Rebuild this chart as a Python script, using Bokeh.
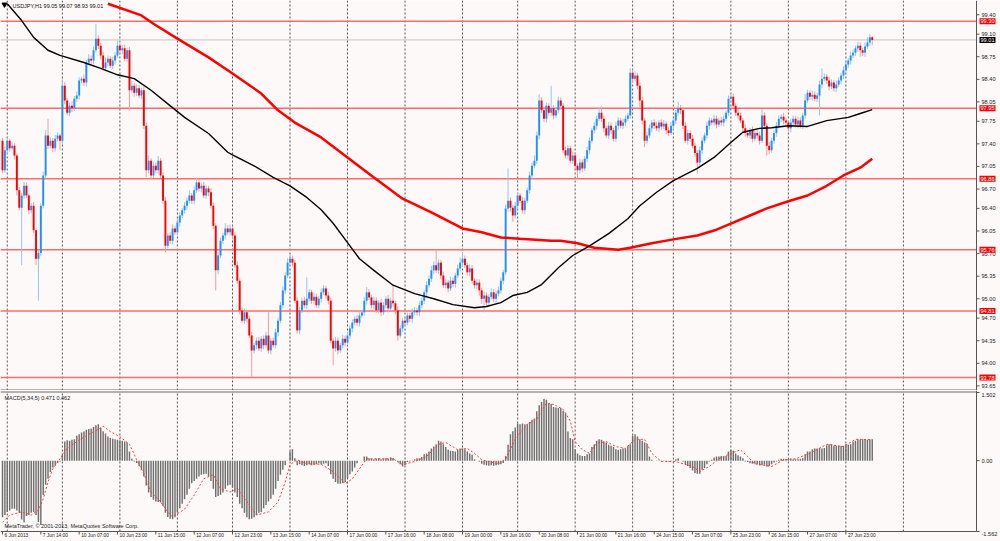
from bokeh.plotting import figure
from bokeh.models import Range1d, Label, ColumnDataSource
from bokeh.layouts import column
from bokeh.embed import file_html
from bokeh.resources import INLINE
from bokeh.core.properties import value

# ---------------- data ----------------
first_open = 97.45
closes = [
    96.99, 97.30, 97.45, 97.33, 97.37, 97.22, 96.68, 96.41, 96.60, 96.75,
    96.60, 96.37, 96.44, 96.06, 95.62, 95.71, 96.44, 96.91, 97.53, 97.37,
    97.45, 97.33, 97.48, 97.53, 97.45, 98.30, 98.07, 97.88, 97.99, 97.95,
    98.10, 98.15, 98.38, 98.41, 98.35, 98.66, 98.72, 98.69, 98.85, 99.03,
    98.92, 98.77, 98.57, 98.66, 98.72, 98.61, 98.69, 98.77, 98.92, 98.85,
    98.88, 98.72, 98.85, 98.23, 98.30, 98.19, 98.26, 98.15, 98.23, 97.68,
    96.99, 97.14, 96.91, 97.06, 96.99, 97.14, 96.91, 96.52, 95.82, 95.98,
    95.90, 96.09, 96.03, 96.18, 96.29, 96.37, 96.44, 96.52, 96.60, 96.52,
    96.68, 96.80, 96.71, 96.75, 96.60, 96.71, 96.65, 96.44, 96.13, 95.44,
    95.67, 95.90, 95.98, 96.09, 96.03, 96.09, 95.98, 95.52, 95.28, 94.82,
    94.66, 94.79, 94.69, 94.43, 94.20, 94.28, 94.35, 94.23, 94.38, 94.28,
    94.43, 94.20, 94.35, 94.28, 94.48, 94.66, 94.90, 95.13, 95.36, 95.56,
    95.62, 95.56, 94.97, 94.51, 94.82, 94.97, 94.90, 95.00, 95.10, 94.97,
    95.03, 94.90, 95.00, 95.10, 95.16, 95.05, 94.97, 94.35, 94.23, 94.35,
    94.20, 94.28, 94.38, 94.32, 94.43, 94.54, 94.63, 94.69, 94.63, 94.74,
    94.79, 94.97, 95.10, 95.02, 94.90, 94.97, 94.82, 94.94, 94.79, 94.90,
    95.00, 94.85, 94.97, 94.93, 94.82, 94.43, 94.54, 94.66, 94.63, 94.74,
    94.69, 94.79, 94.82, 94.79, 94.90, 94.97, 95.10, 95.21, 95.31, 95.44,
    95.52, 95.44, 95.56, 95.36, 95.21, 95.25, 95.16, 95.28, 95.23, 95.36,
    95.47, 95.56, 95.62, 95.52, 95.41, 95.47, 95.28, 95.21, 95.25, 95.13,
    95.00, 95.05, 94.94, 95.03, 95.10, 95.00, 95.08, 95.13, 95.28, 95.41,
    96.40, 96.52, 96.41, 96.29, 96.44, 96.60, 96.52, 96.37, 96.52, 96.68,
    96.91, 97.06, 97.14, 97.53, 98.07, 97.92, 97.79, 97.99, 97.88, 97.95,
    97.84, 97.92, 98.07, 97.99, 97.30, 97.22, 97.33, 97.14, 97.22, 97.06,
    96.99, 97.11, 97.02, 97.17, 97.30, 97.45, 97.61, 97.68, 97.79, 97.88,
    97.79, 97.64, 97.53, 97.68, 97.61, 97.48, 97.68, 97.76, 97.68, 97.73,
    97.79, 97.84, 98.50, 98.41, 98.46, 98.30, 98.07, 97.76, 97.45, 97.53,
    97.64, 97.73, 97.68, 97.64, 97.73, 97.67, 97.71, 97.61, 97.57, 97.68,
    97.76, 97.88, 97.95, 97.92, 97.68, 97.45, 97.57, 97.48, 97.37, 97.26,
    97.11, 97.30, 97.45, 97.53, 97.68, 97.76, 97.73, 97.79, 97.70, 97.76,
    97.73, 97.79, 97.88, 98.10, 98.13, 97.99, 97.88, 97.84, 97.76, 97.64,
    97.57, 97.53, 97.61, 97.48, 97.57, 97.53, 97.45, 97.84, 97.68, 97.37,
    97.30, 97.45, 97.57, 97.68, 97.79, 97.82, 97.76, 97.73, 97.64, 97.73,
    97.79, 97.70, 97.76, 97.68, 97.84, 98.07, 98.19, 98.13, 98.16, 98.10,
    98.15, 98.32, 98.41, 98.44, 98.38, 98.29, 98.35, 98.26, 98.32, 98.38,
    98.46, 98.54, 98.63, 98.69, 98.77, 98.81, 98.88, 98.92, 98.85, 98.81,
    98.91, 98.97, 99.05, 99.01,
]
# wick lengths above / below the candle body, in hundredths of a yen
up_wick = [
    4, 6, 5, 3, 6, 4, 3, 5, 4, 6, 5, 3, 4, 6, 3, 5, 4, 6, 8, 26,
    5, 4, 6, 5, 3, 10, 6, 4, 5, 7, 4, 6, 5, 3, 6, 4, 7, 5, 6, 23,
    5, 4, 6, 8, 5, 4, 6, 5, 8, 4, 5, 6, 4, 5, 7, 4, 6, 5, 4, 6,
    5, 8, 4, 6, 5, 7, 4, 5, 6, 4, 5, 6, 4, 7, 5, 4, 6, 5, 8, 4,
    6, 8, 5, 4, 6, 5, 4, 6, 5, 4, 6, 5, 4, 8, 5, 6, 4, 5, 6, 4,
    5, 6, 4, 5, 6, 4, 5, 6, 4, 5, 6, 36, 4, 5, 6, 4, 5, 6, 5, 7,
    8, 5, 4, 6, 5, 4, 6, 33, 5, 4, 6, 5, 4, 6, 5, 4, 6, 5, 4, 6,
    5, 4, 6, 5, 4, 6, 5, 4, 6, 5, 4, 6, 8, 5, 4, 6, 5, 4, 6, 5,
    4, 6, 5, 24, 4, 6, 5, 4, 6, 5, 4, 6, 5, 4, 6, 5, 4, 6, 5, 7,
    6, 23, 5, 4, 6, 5, 4, 6, 5, 4, 6, 8, 10, 5, 4, 6, 5, 4, 6, 5,
    4, 6, 5, 4, 6, 5, 4, 6, 5, 4, 6, 50, 5, 4, 6, 5, 4, 6, 5, 4,
    6, 5, 8, 6, 10, 5, 6, 5, 4, 35, 5, 4, 6, 5, 4, 6, 5, 4, 6, 5,
    4, 6, 5, 4, 6, 5, 4, 6, 5, 8, 10, 5, 4, 6, 5, 4, 6, 5, 4, 6,
    5, 4, 7, 5, 6, 4, 5, 6, 4, 5, 6, 4, 5, 6, 4, 5, 6, 4, 5, 6,
    4, 5, 10, 5, 4, 6, 5, 4, 6, 5, 4, 6, 5, 4, 6, 5, 4, 6, 5, 4,
    6, 5, 4, 5, 6, 5, 4, 6, 5, 4, 6, 5, 4, 6, 5, 4, 6, 10, 5, 4,
    6, 5, 4, 6, 5, 4, 6, 5, 4, 6, 5, 4, 6, 5, 4, 10, 5, 4, 6, 5,
    4, 6, 16, 5, 4, 6, 5, 4, 6, 5, 4, 6, 5, 4, 6, 5, 4, 6, 5, 4,
    6, 8, 5, 2,
]
dn_wick = [
    5, 4, 6, 5, 3, 6, 8, 4, 89, 5, 4, 6, 5, 4, 10, 65, 5, 4, 6, 5,
    4, 6, 5, 4, 15, 5, 6, 4, 5, 6, 4, 5, 6, 4, 5, 6, 4, 5, 6, 4,
    5, 6, 4, 5, 6, 4, 5, 6, 4, 5, 6, 4, 5, 31, 4, 6, 5, 4, 6, 5,
    10, 5, 6, 4, 5, 6, 4, 5, 10, 4, 5, 6, 4, 5, 6, 4, 5, 6, 4, 5,
    6, 4, 5, 6, 4, 5, 6, 4, 5, 31, 6, 4, 5, 6, 4, 5, 6, 4, 5, 6,
    4, 5, 6, 4, 42, 5, 6, 4, 5, 6, 4, 5, 6, 4, 5, 6, 4, 5, 6, 4,
    5, 6, 4, 5, 6, 4, 5, 6, 4, 5, 6, 4, 5, 6, 4, 5, 6, 4, 26, 5,
    6, 4, 5, 6, 4, 5, 6, 4, 5, 6, 4, 5, 6, 4, 5, 6, 4, 5, 6, 4,
    5, 6, 4, 5, 6, 8, 4, 5, 6, 4, 5, 6, 4, 5, 6, 4, 5, 6, 4, 5,
    6, 4, 5, 6, 4, 5, 6, 4, 5, 6, 4, 5, 6, 4, 5, 6, 4, 5, 6, 8,
    8, 21, 5, 6, 4, 5, 6, 4, 5, 6, 4, 5, 6, 10, 5, 6, 4, 5, 6, 4,
    5, 6, 4, 5, 6, 4, 5, 6, 4, 5, 6, 4, 5, 6, 4, 5, 6, 4, 5, 6,
    13, 5, 6, 4, 5, 6, 4, 5, 6, 4, 5, 6, 4, 5, 6, 4, 5, 6, 4, 5,
    6, 4, 5, 6, 4, 5, 10, 6, 10, 5, 4, 6, 5, 4, 6, 5, 4, 6, 5, 4,
    6, 5, 4, 6, 5, 4, 6, 5, 4, 6, 17, 5, 6, 4, 5, 6, 4, 5, 6, 4,
    5, 6, 4, 5, 6, 4, 5, 6, 4, 5, 6, 4, 5, 6, 4, 5, 6, 4, 5, 15,
    6, 4, 5, 6, 4, 5, 6, 4, 5, 6, 4, 5, 6, 4, 5, 6, 4, 5, 6, 4,
    5, 31, 6, 4, 5, 6, 4, 5, 6, 4, 5, 6, 4, 5, 6, 4, 5, 6, 10, 5,
    6, 4, 5, 8,
]

# moving averages (bar index, value)
ma_black_x = [2, 8, 13, 19, 24, 34, 41, 48, 55, 62, 69, 76, 86, 94, 96, 105, 113, 120, 127, 133,
              138, 144, 149, 155, 163, 172, 180, 188, 197, 202, 208, 213, 219, 225, 232, 238, 245, 253, 261, 266,
              273, 280, 290, 297, 304, 309, 316, 321, 328, 336, 344, 353, 358, 363]
ma_black_v = [99.57, 99.31, 99.05, 98.85, 98.77, 98.66, 98.57, 98.47, 98.41, 98.23, 98.02, 97.81, 97.56, 97.27,
              97.23, 97.06, 96.88, 96.75, 96.57, 96.38, 96.17, 95.87, 95.62, 95.44, 95.21, 95.08, 95.00, 94.91,
              94.86, 94.88, 94.94, 95.05, 95.10, 95.22, 95.48, 95.67, 95.82, 96.01, 96.24, 96.44, 96.65, 96.83,
              97.02, 97.19, 97.42, 97.58, 97.64, 97.65, 97.68, 97.67, 97.76, 97.81, 97.87, 97.93]
ma_red_x = [44, 58, 63, 73, 86, 96, 108, 115, 122, 133, 144, 155, 167, 179, 192, 200, 208, 216, 229, 233,
            240, 247, 257, 262, 271, 280, 290, 298, 305, 312, 319, 328, 336, 344, 351, 358, 363]
ma_red_v = [99.57, 99.39, 99.26, 99.03, 98.74, 98.49, 98.18, 97.92, 97.73, 97.50, 97.19, 96.88, 96.55, 96.34,
            96.09, 96.03, 95.95, 95.93, 95.90, 95.90, 95.86, 95.79, 95.76, 95.79, 95.86, 95.92, 95.98, 96.07,
            96.18, 96.29, 96.40, 96.51, 96.60, 96.75, 96.91, 97.03, 97.17]

levels = [99.30, 97.95, 96.86, 95.76, 94.81, 93.78]
bid = 99.01
price_ticks = [99.40, 99.10, 98.75, 98.40, 98.05, 97.75, 97.40, 97.05, 96.70, 96.40, 96.05,
               95.70, 95.35, 95.00, 94.70, 94.35, 94.00, 93.65]

macd_hist = [
    -1.25, -1.20, -1.13, -1.10, -1.06, -1.06, -1.10, -1.15, -1.30, -1.36,
    -1.22, -1.20, -1.15, -1.13, -1.20, -1.35, -1.42, -0.76, -0.53, -0.40,
    -0.25, -0.15, -0.10, -0.05, -0.02, 0.13, 0.42, 0.45, 0.44, 0.46,
    0.47, 0.55, 0.58, 0.62, 0.64, 0.68, 0.70, 0.71, 0.74, 0.78,
    0.80, 0.72, 0.65, 0.60, 0.53, 0.50, 0.48, 0.47, 0.46, 0.45,
    0.44, 0.42, 0.40, 0.20, 0.04, -0.02, -0.05, -0.12, -0.20, -0.35,
    -0.55, -0.70, -0.80, -0.86, -0.90, -0.91, -0.92, -1.00, -1.15, -1.24,
    -1.28, -1.29, -1.25, -1.15, -1.05, -0.95, -0.85, -0.75, -0.62, -0.50,
    -0.45, -0.40, -0.35, -0.31, -0.30, -0.29, -0.35, -0.45, -0.62, -0.80,
    -0.78, -0.75, -0.70, -0.62, -0.55, -0.53, -0.60, -0.70, -0.80, -0.95,
    -1.05, -1.15, -1.25, -1.29, -1.28, -1.25, -1.20, -1.15, -1.13, -1.05,
    -0.98, -0.90, -0.84, -0.75, -0.62, -0.45, -0.31, -0.20, -0.10, -0.01,
    0.20, 0.25, 0.05, -0.10, -0.08, -0.10, -0.12, -0.10, -0.08, -0.10,
    -0.09, -0.08, -0.06, -0.08, -0.07, -0.06, -0.12, -0.30, -0.40, -0.47,
    -0.51, -0.51, -0.50, -0.47, -0.38, -0.30, -0.24, -0.15, -0.06, 0.00,
    0.00, 0.09, 0.09, 0.05, 0.04, 0.03, 0.04, 0.05, 0.03, 0.04,
    0.05, 0.04, 0.07, 0.06, 0.00, -0.03, -0.08, -0.13, -0.10, -0.03,
    -0.02, -0.01, 0.03, 0.05, 0.05, 0.08, 0.14, 0.16, 0.20, 0.27,
    0.31, 0.36, 0.44, 0.42, 0.36, 0.30, 0.24, 0.22, 0.21, 0.20,
    0.24, 0.27, 0.27, 0.25, 0.20, 0.16, 0.13, 0.03, 0.00, -0.02,
    -0.07, -0.09, -0.10, -0.11, -0.10, -0.11, -0.10, -0.09, -0.08, -0.05,
    0.10, 0.35, 0.58, 0.65, 0.73, 0.82, 0.80, 0.82, 0.80, 0.80,
    0.85, 0.90, 0.93, 1.09, 1.22, 1.29, 1.36, 1.34, 1.27, 1.25,
    1.18, 1.17, 1.16, 1.16, 1.10, 1.04, 0.64, 0.50, 0.47, 0.25,
    0.16, 0.12, 0.10, 0.10, 0.14, 0.16, 0.30, 0.36, 0.44, 0.47,
    0.46, 0.42, 0.40, 0.35, 0.33, 0.30, 0.25, 0.24, 0.25, 0.27,
    0.27, 0.33, 0.36, 0.55, 0.58, 0.53, 0.47, 0.44, 0.40, 0.36,
    0.09, 0.02, 0.00, -0.01, -0.01, -0.02, -0.01, -0.01, -0.02, -0.01,
    -0.01, 0.03, 0.05, 0.00, -0.02, -0.08, -0.12, -0.16, -0.22, -0.27,
    -0.29, -0.29, -0.20, -0.16, -0.08, -0.02, 0.02, 0.07, 0.09, 0.09,
    0.10, 0.09, 0.10, 0.20, 0.24, 0.22, 0.16, 0.12, 0.09, 0.05,
    -0.02, -0.03, -0.06, -0.07, -0.07, -0.08, -0.10, -0.10, -0.09, -0.13,
    -0.12, -0.08, -0.04, -0.02, 0.02, 0.04, 0.04, 0.03, 0.03, 0.04,
    0.03, 0.03, 0.03, 0.04, 0.05, 0.14, 0.20, 0.20, 0.25, 0.27,
    0.27, 0.28, 0.27, 0.28, 0.34, 0.36, 0.36, 0.33, 0.33, 0.32,
    0.33, 0.33, 0.36, 0.35, 0.36, 0.42, 0.44, 0.47, 0.46, 0.47,
    0.47, 0.46, 0.47, 0.471,
]
signal_x = [0, 3, 8, 12, 15, 17, 19, 21, 24, 27, 31, 36, 40, 42, 45, 49, 53, 56, 59, 62,
            66, 69, 71, 76, 80, 84, 88, 91, 95, 98, 102, 106, 111, 115, 118, 120, 123, 127, 133, 138,
            143, 146, 149, 152, 157, 163, 167, 172, 177, 182, 185, 190, 194, 197, 200, 207, 210, 214, 219, 223,
            227, 230, 234, 237, 239, 242, 245, 248, 252, 256, 260, 264, 268, 271, 275, 281, 288, 291, 295, 299,
            304, 308, 311, 314, 321, 326, 331, 337, 344, 351, 356, 363]
signal_v = [-1.36, -1.2, -1.13, -1.2, -1.09, -0.84, -0.47, -0.18, 0.04, 0.27, 0.42, 0.58, 0.69, 0.76, 0.64,
            0.53, 0.36, 0.02, -0.29, -0.69, -0.91, -1.13, -1.24, -1.07, -0.76, -0.4, -0.31, -0.62, -0.69,
            -0.62, -0.91, -1.2, -1.13, -0.91, -0.47, -0.09, 0.02, -0.07, -0.08, -0.24, -0.51, -0.4, -0.18,
            0.04, 0.04, 0.04, -0.09, -0.02, 0.09, 0.36, 0.4, 0.24, 0.27, 0.16, 0.02, -0.07, 0.04, 0.47, 0.8,
            0.91, 1.27, 1.24, 1.13, 0.87, 0.42, 0.24, 0.16, 0.38, 0.42, 0.31, 0.27, 0.47, 0.47, 0.16, -0.02,
            -0.02, -0.13, -0.24, -0.13, 0.04, 0.16, 0.24, 0.09, -0.07, -0.13, 0.02, 0.04, 0.16, 0.36, 0.31,
            0.47, 0.462]
macd_top = 1.502
macd_bottom = -1.562
macd_tick_labels = ["1.502", "0.00", "-1.562"]

label_bars = list(range(0, 353, 16))
date_labels = ["6 Jun 2013", "7 Jun 14:00", "10 Jun 07:00", "10 Jun 23:00", "11 Jun 15:00",
               "12 Jun 07:00", "12 Jun 23:00", "13 Jun 15:00", "14 Jun 07:00", "17 Jun 00:00",
               "17 Jun 16:00", "18 Jun 08:00", "19 Jun 00:00", "19 Jun 16:00", "20 Jun 08:00",
               "21 Jun 00:00", "21 Jun 16:00", "24 Jun 15:00", "25 Jun 07:00", "25 Jun 23:00",
               "26 Jun 15:00", "27 Jun 07:00", "27 Jun 23:00"]
day_bars = [2, 25, 49, 73, 96, 120, 144, 168, 192, 215, 239, 263, 280, 304, 328, 352, 376]

title_text = "USDJPY,H1  99.05 99.07 98.93 99.01"
macd_text = "MACD(5,34,5) 0.471 0.462"
copyright_text = "MetaTrader, \u00a9 2001-2013, MetaQuotes Software Corp."

# ---------------- layout constants ----------------
FONT = "Liberation Sans"
BG = "#fdf9f8"
W = 1000
BAR_PX = 2.396            # pixels per bar
X0 = -0.83                # bar index at the left edge
AX = X0 + 976 / BAR_PX    # bar index of the right price axis
MAIN_H = 390
P_TOP = 99.621
P_PER_PX = 0.015493
P_BOT = P_TOP - MAIN_H * P_PER_PX
M_PX = 139 / (macd_top - macd_bottom)   # pixels per MACD unit
M_TOP = macd_top + 2 / M_PX
M_BOT = macd_bottom - 10 / M_PX

xr = Range1d(X0, X0 + W / BAR_PX)

# ---------------- derived ----------------
N = len(closes)
bars = list(range(N))
opens = [first_open] + closes[:-1]
body_top = [max(o, c) for o, c in zip(opens, closes)]
body_bot = [min(o, c) for o, c in zip(opens, closes)]
highs = [t + u / 100 for t, u in zip(body_top, up_wick)]
lows = [b - d / 100 for b, d in zip(body_bot, dn_wick)]
bull = [c >= o for o, c in zip(opens, closes)]
src = ColumnDataSource(dict(
    x=bars, hi=highs, lo=lows, top=[max(t, b + 0.012) for t, b in zip(body_top, body_bot)], bot=body_bot,
    bc=["#1e90ff" if b else "#ff0000" for b in bull],
    wc=["#93c5f4" if b else "#f59c9c" for b in bull],
))

def base_fig(h, yr):
    f = figure(width=W, height=h, x_range=xr, y_range=yr, output_backend="svg", toolbar_location=None,
               x_axis_location=None, y_axis_location=None, min_border=0,
               background_fill_color=BG, border_fill_color=BG, outline_line_color=None)
    for g in f.grid:
        g.visible = False
    return f

# ================= main price panel =================
main = base_fig(MAIN_H, Range1d(P_BOT, P_TOP))
main.segment(x0=day_bars, y0=[P_BOT] * len(day_bars), x1=day_bars, y1=[P_TOP] * len(day_bars),
             line_color="#555555", line_width=1, line_dash="2 2")
main.segment(x0=[X0] * len(levels), y0=levels, x1=[AX] * len(levels), y1=levels,
             line_color="#ff6a6a", line_width=1.5)
main.segment(x0=[X0], y0=[bid], x1=[AX], y1=[bid], line_color="#c4c4c4", line_width=1)

main.segment(x0="x", y0="lo", x1="x", y1="hi", source=src, line_color="wc", line_width=1)
main.vbar(x="x", width=0.8, top="top", bottom="bot", source=src, fill_color="bc", line_color=None)

main.line(ma_red_x, ma_red_v, line_color="#ff0000", line_width=2.5)
main.line(ma_black_x, ma_black_v, line_color="#000000", line_width=1.4)

# right price axis
main.segment(x0=[AX], y0=[P_BOT], x1=[AX], y1=[P_TOP], line_color="#555555", line_width=1)
main.segment(x0=[X0], y0=[P_BOT + 0.5 * P_PER_PX], x1=[AX], y1=[P_BOT + 0.5 * P_PER_PX],
             line_color="#6a6a6a", line_width=1)
main.segment(x0=[AX] * len(price_ticks), y0=price_ticks, x1=[AX + 3 / BAR_PX] * len(price_ticks),
             y1=price_ticks, line_color="#555555", line_width=1)
main.text(x=[AX] * len(price_ticks), y=price_ticks, text=[f"{t:.2f}" for t in price_ticks],
          x_offset=5, text_baseline="middle", text_align="left", text_font=value(FONT),
          text_font_size="5.6px", text_color="#222222")
for lvl in levels:
    main.add_layout(Label(x=AX, y=lvl, x_offset=3, text=f"{lvl:.2f}", text_font=FONT,
                          text_font_size="5.6px", text_color="white", text_baseline="middle",
                          background_fill_color="#ff0000", padding=1))
main.add_layout(Label(x=AX, y=bid, x_offset=3, text=f"{bid:.2f}", text_font=FONT,
                      text_font_size="5.6px", text_color="white", text_baseline="middle",
                      background_fill_color="#000000", padding=1))

main.scatter(x=[X0 + 4 / BAR_PX], y=[P_TOP - 4 * P_PER_PX], marker="inverted_triangle", size=5,
             color="#000000")
main.add_layout(Label(x=X0 + 12 / BAR_PX, y=P_TOP - 5 * P_PER_PX, text=title_text, text_font=FONT,
                      text_font_size="5.5px", text_color="#111111", text_baseline="middle"))

# ================= MACD panel =================
macd = base_fig(541 - MAIN_H, Range1d(M_BOT, M_TOP))
macd.segment(x0=day_bars, y0=[macd_bottom] * len(day_bars), x1=day_bars, y1=[macd_top] * len(day_bars),
             line_color="#555555", line_width=1, line_dash="2 2")
macd.vbar(x=bars, width=0.6, top=macd_hist, bottom=0, fill_color="#6e6e6e", line_color=None)
macd.line(signal_x, signal_v, line_color="#ff3b3b", line_width=1, line_dash="2 2")

sep_y = macd_top + 0.5 / M_PX
macd.segment(x0=[X0], y0=[sep_y], x1=[AX], y1=[sep_y], line_color="#6a6a6a", line_width=1)
macd.segment(x0=[X0], y0=[macd_bottom], x1=[AX], y1=[macd_bottom], line_color="#555555", line_width=1)
macd.segment(x0=[AX], y0=[macd_bottom], x1=[AX], y1=[M_TOP], line_color="#555555", line_width=1)
macd_ticks = [macd_top, 0.0, macd_bottom]
macd.segment(x0=[AX] * 3, y0=macd_ticks, x1=[AX + 3 / BAR_PX] * 3, y1=macd_ticks,
             line_color="#555555", line_width=1)
for t, s, bl in zip(macd_ticks, macd_tick_labels, ["top", "middle", "top"]):
    macd.add_layout(Label(x=AX, y=t, x_offset=5, text=s, text_font=FONT, text_font_size="5.6px",
                          text_color="#222222", text_baseline=bl))

# bottom time axis
macd.segment(x0=label_bars, y0=[macd_bottom] * len(label_bars), x1=label_bars,
             y1=[macd_bottom - 3 / M_PX] * len(label_bars), line_color="#555555", line_width=1)
macd.text(x=label_bars, y=[macd_bottom] * len(label_bars), text=date_labels, x_offset=2, y_offset=1.5,
          text_baseline="top", text_align="left", text_font=value(FONT), text_font_size="4.8px",
          text_color="#222222")

macd.add_layout(Label(x=X0 + 4 / BAR_PX, y=macd_top - 5 / M_PX, text=macd_text, text_font=FONT,
                      text_font_size="5.5px", text_color="#222222", text_baseline="middle"))
macd.add_layout(Label(x=X0 + 4 / BAR_PX, y=macd_bottom + 6 / M_PX, text=copyright_text, text_font=FONT,
                      text_font_size="5.5px", text_color="#222222", text_baseline="middle"))

layout = column(main, macd, spacing=0)
open("out.html", "w").write(file_html(layout, INLINE))
